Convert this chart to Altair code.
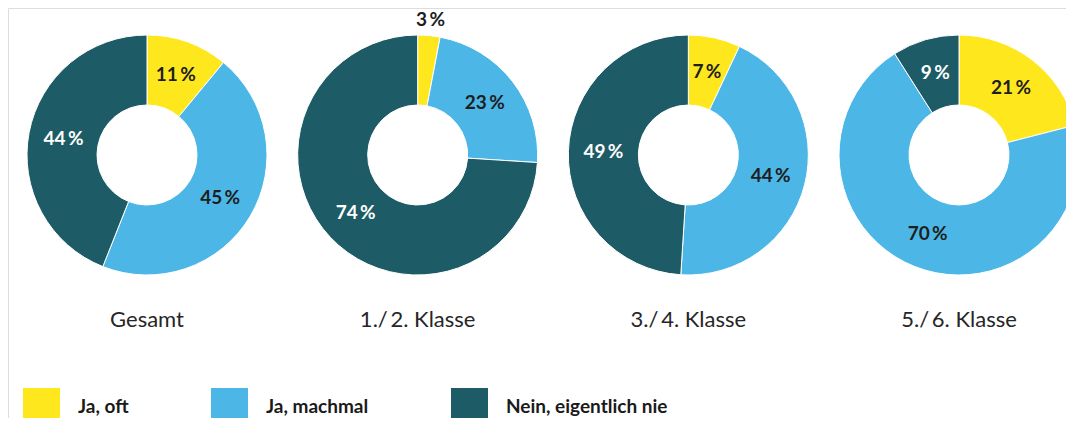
import altair as alt
import pandas as pd

groups = ["Gesamt", "1./\u20092. Klasse", "3./\u20094. Klasse", "5./\u20096. Klasse"]
categories = ["Ja, oft", "Ja, machmal", "Nein, eigentlich nie"]
colors = ["#FFE71E", "#4CB7E7", "#1D5B66"]

ja_oft = [11, 3, 7, 21]
ja_machmal = [45, 23, 44, 70]
nein = [44, 74, 49, 9]

rows = []
for gi, g in enumerate(groups):
    for ci, (c, vals) in enumerate(zip(categories, [ja_oft, ja_machmal, nein])):
        rows.append({"group": g, "cat": c, "order": ci, "value": vals[gi]})
df = pd.DataFrame(rows)

FONT = "Lato"

x_enc = alt.X("group:N", sort=groups, axis=None,
              scale=alt.Scale(type="point", range=[139, 951], padding=0))
theta_scale = alt.Scale(domain=[0, 100])

base = alt.Chart(df)

arcs = base.mark_arc(outerRadius=120, innerRadius=50, stroke="white", strokeWidth=1).encode(
    x=x_enc,
    y=alt.value(147),
    theta=alt.Theta("v0:Q", scale=theta_scale),
    theta2="v1:Q",
    color=alt.Color("cat:N", sort=categories,
                    scale=alt.Scale(domain=categories, range=colors),
                    legend=alt.Legend(orient="none", legendX=15, legendY=380,
                                      direction="horizontal", title=None,
                                      symbolType="square", symbolSize=1369,
                                      symbolStrokeWidth=0, symbolOpacity=1,
                                      labelFont=FONT, labelFontWeight="bold",
                                      labelFontSize=19, labelColor="#1a1a1a",
                                      labelLimit=400,
                                      labelOffset=18, columnPadding=82)),
    order=alt.Order("order:Q"),
)

label_color = alt.condition("datum.cat == 'Nein, eigentlich nie'",
                            alt.value("white"), alt.value("#1e1e1e"))

inner_labels = base.mark_text(font=FONT, fontWeight="bold", fontSize=19,
                              align="center", baseline="middle").encode(
    x=x_enc,
    y=alt.value(147),
    theta=alt.Theta("mid:Q", scale=theta_scale),
    radius=alt.value(85),
    text="label:N",
    color=label_color,
).transform_filter("datum.value >= 5")

outer_labels = base.mark_text(font=FONT, fontWeight="bold", fontSize=19,
                              align="center", baseline="middle").encode(
    x=x_enc,
    y=alt.value(147),
    theta=alt.Theta("mid:Q", scale=theta_scale),
    radius=alt.value(136),
    text="label:N",
    color=alt.value("#1e1e1e"),
).transform_filter("datum.value < 5")

group_labels = base.mark_text(font=FONT, fontSize=22, align="center",
                              baseline="middle", color="#262626").encode(
    x=x_enc,
    y=alt.value(312),
    text="group:N",
).transform_filter("datum.order == 0")

chart = alt.layer(arcs, inner_labels, outer_labels, group_labels).transform_stack(
    stack="value", groupby=["group"], as_=["v0", "v1"],
    sort=[alt.SortField("order", order="ascending")],
).transform_calculate(
    mid="(datum.v0 + datum.v1) / 2",
    label="datum.value + '\u2009%'",
).properties(
    width=1058, height=410, padding=0, background="white",
    autosize=alt.AutoSizeParams(type="none"),
).configure_view(strokeWidth=0, stroke="transparent").configure(font=FONT)

chart.save("out.html", embed_options={"renderer": "svg", "actions": False})
